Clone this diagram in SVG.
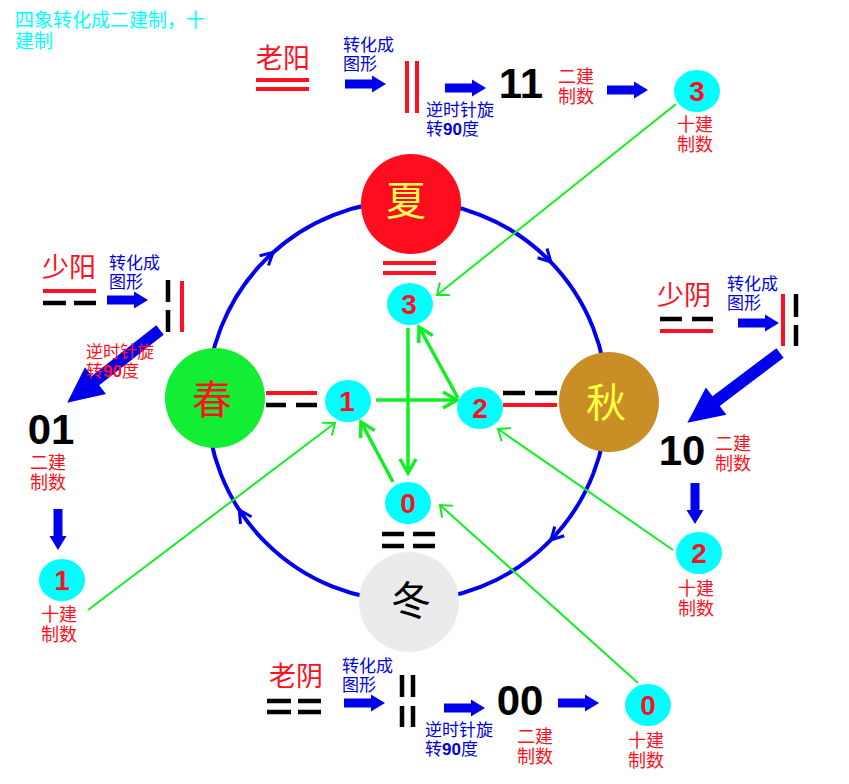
<svg xmlns="http://www.w3.org/2000/svg" xmlns:xlink="http://www.w3.org/1999/xlink" width="849" height="784" viewBox="0 0 849 784">
<style>
.cjk{font-family:"Liberation Serif","Noto Sans CJK SC",sans-serif}
.lbl{font-family:"Liberation Serif","Noto Sans CJK SC",sans-serif;font-size:17px;fill:#0000dd}
.lblr{font-family:"Liberation Serif","Noto Sans CJK SC",sans-serif;font-size:17px;fill:#ff1020}
.name{font-family:"Liberation Serif","Noto Sans CJK SC",sans-serif;font-size:27px;fill:#ff1020}
.small{font-family:"Liberation Serif","Noto Sans CJK SC",sans-serif;font-size:18px;fill:#ff1020}
.bin{font-family:"Liberation Sans",Arial,sans-serif;font-weight:bold;font-size:42px;fill:#000;text-anchor:middle}
.num{font-family:"Liberation Sans",Arial,sans-serif;font-weight:bold;font-size:28px;fill:#ff1020;text-anchor:middle}
.season{font-family:"Liberation Serif","Noto Sans CJK SC",sans-serif;font-size:40px;text-anchor:middle}
.b90{font-family:"Liberation Sans",Arial,sans-serif;font-weight:bold}
.cyan{fill:#00ffff}
.ry{stroke:#ff1020;stroke-width:4;fill:none}
.yk{stroke:#000;stroke-width:4.5;fill:none}
.blk{fill:#0000ee}
.gthin{stroke:#11ee22;stroke-width:2;fill:none}
.gthick{stroke:#11ee22;stroke-width:3.5;fill:none}
.ring{stroke:#0000ee;stroke-width:4;fill:none}
.ah{stroke:#0000ee;stroke-width:3;fill:none}
</style>
<defs>
<path id="harrow" d="M0,-4.5 H27 V-8.5 L41,0 L27,8.5 V4.5 H0 Z"/>
<marker id="mthin" markerUnits="userSpaceOnUse" markerWidth="20" markerHeight="20" refX="14" refY="10" orient="auto">
<path d="M4,2 L14,10 L4,18" fill="none" stroke="#11ee22" stroke-width="2"/>
</marker>
<marker id="mthick" markerUnits="userSpaceOnUse" markerWidth="22" markerHeight="22" refX="16" refY="10" orient="auto">
<path d="M2,2 L16,10 L2,18" fill="none" stroke="#11ee22" stroke-width="3.5"/>
</marker>
</defs>
<rect width="849" height="784" fill="#fff"/>

<text class="cjk" font-size="19" fill="#00ffff"><tspan x="15" y="26.5">四象转化成二建制，十</tspan><tspan x="15" y="47.8">建制</tspan></text>

<g id="ring">
<circle cx="407" cy="401" r="200" class="ring"/>
<polyline class="ah" points="259.6,255.8 273.2,252.4 268.4,265.5"/>
<polyline class="ah" points="547,248.5 550.9,262 537.6,257.7"/>
<polyline class="ah" points="564.2,535.7 550.9,540 554.8,526.5"/>
<polyline class="ah" points="240.5,524 239.3,510 251.5,516.8"/>
</g>

<g id="summer">
<circle cx="411" cy="204" r="50" fill="#ff0d1f"/>
<text x="406" y="215" class="season" fill="#ffff55">夏</text>
<path class="ry" d="M383,263 H436 M383,273 H436"/>
</g>
<g id="spring">
<circle cx="215" cy="398" r="50" fill="#11ee33"/>
<text x="212" y="414" class="season" fill="#ff1020">春</text>
<path class="ry" d="M266,393 H317"/>
<path class="yk" d="M266,405 H286 M296,405 H317"/>
</g>
<g id="autumn">
<circle cx="609" cy="402" r="50" fill="#c98e26"/>
<text x="606" y="417" class="season" fill="#ffff44">秋</text>
<path class="yk" d="M503,393 H525 M535,393 H557"/>
<path class="ry" d="M503,405 H557"/>
</g>
<g id="winter">
<circle cx="409" cy="602" r="50" fill="#ebebeb"/>
<text x="411" y="615" class="season" fill="#000">冬</text>
<path class="yk" d="M382,534 H404 M413,534 H435 M382,546 H404 M413,546 H435"/>
</g>

<g id="connectors">
<line class="gthick" x1="376" y1="400" x2="457" y2="400" marker-end="url(#mthick)"/>
<line class="gthick" x1="408" y1="328" x2="408" y2="473" marker-end="url(#mthick)"/>
<line class="gthick" x1="458" y1="398" x2="419" y2="327" marker-end="url(#mthick)"/>
<line class="gthick" x1="393" y1="482" x2="361" y2="422" marker-end="url(#mthick)"/>
<line class="gthin" x1="676" y1="104" x2="437" y2="295" marker-end="url(#mthin)"/>
<line class="gthin" x1="88" y1="610" x2="335" y2="423" marker-end="url(#mthin)"/>
<line class="gthin" x1="673" y1="550" x2="498" y2="429" marker-end="url(#mthin)"/>
<line class="gthin" x1="638" y1="683" x2="440" y2="505" marker-end="url(#mthin)"/>
</g>

<g id="n3"><ellipse cx="410" cy="304" rx="23" ry="21" class="cyan"/><text x="409" y="314" class="num">3</text></g>
<g id="n1"><ellipse cx="348" cy="401" rx="23" ry="21" class="cyan"/><text x="347" y="411" class="num">1</text></g>
<g id="n2"><ellipse cx="480" cy="408" rx="23" ry="21" class="cyan"/><text x="480" y="418" class="num">2</text></g>
<g id="n0"><ellipse cx="408" cy="503" rx="23" ry="21" class="cyan"/><text x="408" y="513" class="num">0</text></g>

<g id="laoyang">
<text x="256" y="68" class="name">老阳</text>
<path class="ry" d="M256,80 H309 M256,89 H309"/>
<text class="lbl"><tspan x="343" y="51">转化成</tspan><tspan x="343" y="70.2">图形</tspan></text>
<use xlink:href="#harrow" class="blk" transform="translate(345,84)"/>
<path class="ry" d="M407,61 V113 M417,61 V113"/>
<use xlink:href="#harrow" class="blk" transform="translate(445,88)"/>
<text class="lbl"><tspan x="426" y="115.5">逆时针旋</tspan><tspan x="426" y="134.7">转</tspan><tspan class="b90">90</tspan><tspan>度</tspan></text>
<text x="521" y="98" class="bin">11</text>
<text class="small"><tspan x="558" y="82.5">二建</tspan><tspan x="558" y="102.5">制数</tspan></text>
<use xlink:href="#harrow" class="blk" transform="translate(607,90)"/>
<ellipse cx="697" cy="91" rx="23" ry="21" class="cyan"/>
<text x="697" y="101" class="num">3</text>
<text class="small"><tspan x="677" y="131">十建</tspan><tspan x="677" y="151">制数</tspan></text>
</g>

<g id="shaoyang">
<text x="42" y="277" class="name">少阳</text>
<path class="ry" d="M43,291 H96"/>
<path class="yk" d="M43,303 H66 M74,303 H96"/>
<text class="lbl"><tspan x="109" y="268.5">转化成</tspan><tspan x="109" y="287.7">图形</tspan></text>
<use xlink:href="#harrow" class="blk" transform="translate(107,300)"/>
<path class="yk" d="M168,280 V302 M168,310 V332"/>
<path class="ry" d="M182,281 V332"/>
<path class="blk" d="M0,-6 H82 V-17 L118,0 L82,17 V6 H0 Z" transform="translate(160,330) rotate(141.9)"/>
<text class="lblr"><tspan x="86" y="357.5">逆时针旋</tspan><tspan x="86" y="376.7">转</tspan><tspan class="b90">90</tspan><tspan>度</tspan></text>
<text x="51" y="444" class="bin">01</text>
<text class="small"><tspan x="30" y="469">二建</tspan><tspan x="30" y="489">制数</tspan></text>
<use xlink:href="#harrow" class="blk" transform="translate(58,509) rotate(90)"/>
<ellipse cx="62" cy="580" rx="23" ry="21" class="cyan"/>
<text x="62" y="590" class="num">1</text>
<text class="small"><tspan x="41" y="621">十建</tspan><tspan x="41" y="641">制数</tspan></text>
</g>

<g id="shaoyin">
<text x="657" y="305" class="name">少阴</text>
<path class="yk" d="M660,319 H682 M692,319 H713"/>
<path class="ry" d="M660,331 H713"/>
<text class="lbl"><tspan x="727" y="289.5">转化成</tspan><tspan x="727" y="308.7">图形</tspan></text>
<use xlink:href="#harrow" class="blk" transform="translate(738,323)"/>
<path class="ry" d="M783,294 V346"/>
<path class="yk" d="M796,294 V317 M796,325 V346"/>
<path class="blk" d="M0,-6 H80 V-17 L116,0 L80,17 V6 H0 Z" transform="translate(780,353) rotate(143)"/>
<text x="682" y="465" class="bin">10</text>
<text class="small"><tspan x="715" y="449.5">二建</tspan><tspan x="715" y="469.5">制数</tspan></text>
<use xlink:href="#harrow" class="blk" transform="translate(695,483) rotate(90)"/>
<ellipse cx="699" cy="553" rx="23" ry="21" class="cyan"/>
<text x="699" y="563" class="num">2</text>
<text class="small"><tspan x="678" y="595">十建</tspan><tspan x="678" y="615">制数</tspan></text>
</g>

<g id="laoyin">
<text x="269" y="686" class="name">老阴</text>
<path class="yk" d="M267,701 H291 M298,701 H321 M267,712 H291 M298,712 H321"/>
<text class="lbl"><tspan x="342" y="671.5">转化成</tspan><tspan x="342" y="690.7">图形</tspan></text>
<use xlink:href="#harrow" class="blk" transform="translate(344,703)"/>
<path class="yk" d="M402,675 V697 M402,706 V727 M413,675 V697 M413,706 V727"/>
<use xlink:href="#harrow" class="blk" transform="translate(444,708)"/>
<text class="lbl"><tspan x="425" y="735.5">逆时针旋</tspan><tspan x="425" y="754.7">转</tspan><tspan class="b90">90</tspan><tspan>度</tspan></text>
<text x="520" y="715" class="bin">00</text>
<use xlink:href="#harrow" class="blk" transform="translate(558,703)"/>
<text class="small"><tspan x="517" y="743">二建</tspan><tspan x="517" y="763">制数</tspan></text>
<ellipse cx="648" cy="705" rx="23" ry="21" class="cyan"/>
<text x="648" y="715" class="num">0</text>
<text class="small"><tspan x="628" y="747">十建</tspan><tspan x="628" y="767">制数</tspan></text>
</g>
</svg>
